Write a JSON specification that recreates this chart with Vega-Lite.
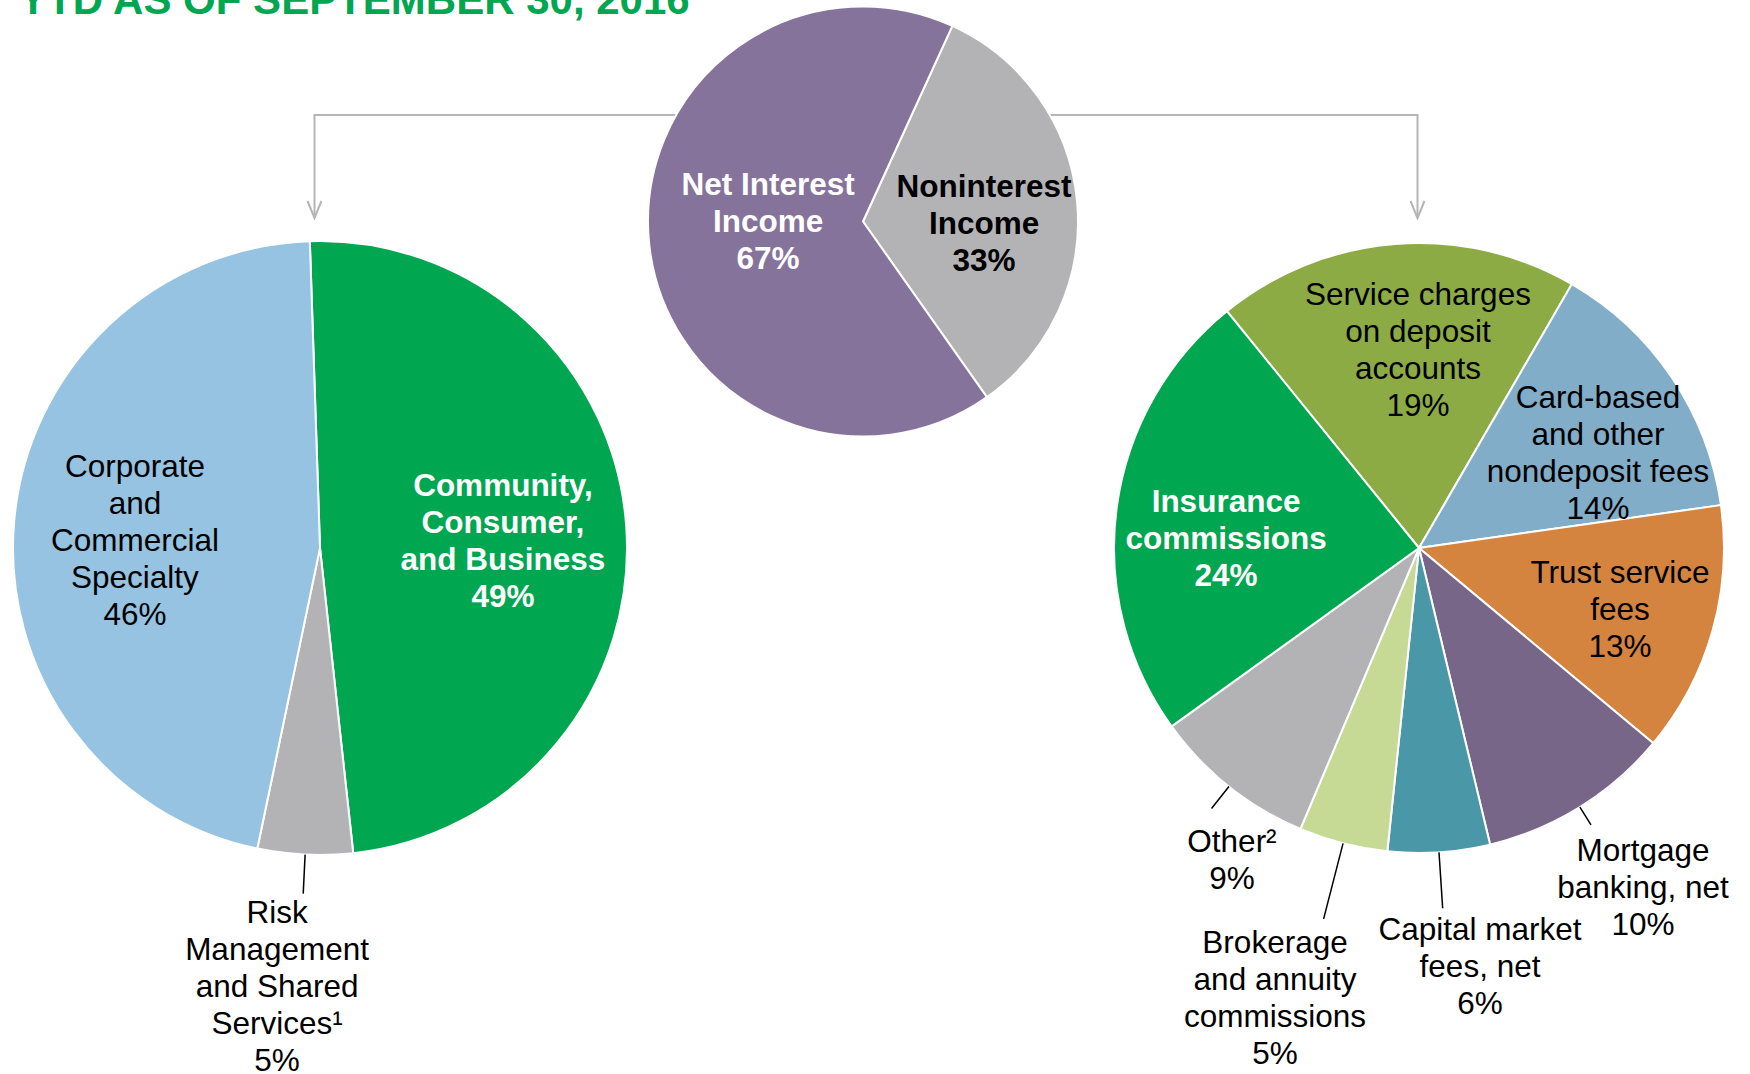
{
  "$schema": "https://vega.github.io/schema/vega-lite/v6.json",
  "width": 1750,
  "height": 1074,
  "padding": 0,
  "autosize": {"type": "none"},
  "background": "#ffffff",
  "config": {"view": {"stroke": null}, "font": "Liberation Sans", "text": {"font": "Liberation Sans"}},
  "title": {"text": "YTD AS OF SEPTEMBER 30, 2016", "anchor": "start", "orient": "top", "frame": "group", "baseline": "alphabetic", "offset": 0, "dx": 19, "dy": 56, "font": "Liberation Sans", "fontSize": 42, "fontWeight": "bold", "color": "#00a650"},
  "datasets": {
    "slices": [
      {"pie": "Total", "level": "total", "rank": 1, "segment": "Noninterest Income", "value": 33.4, "label": ["Noninterest", "Income", "33%"]},
      {"pie": "Total", "level": "total", "rank": 2, "segment": "Net Interest Income", "value": 66.6, "label": ["Net Interest", "Income", "67%"]},
      {"pie": "Segments", "level": "detail", "rank": 1, "segment": "Community, Consumer, and Business", "value": 48.8, "label": ["Community,", "Consumer,", "and Business", "49%"]},
      {"pie": "Segments", "level": "detail", "rank": 2, "segment": "Risk Management and Shared Services", "value": 5.0, "label": ["Risk", "Management", "and Shared", "Services¹", "5%"]},
      {"pie": "Segments", "level": "detail", "rank": 3, "segment": "Corporate and Commercial Specialty", "value": 46.2, "label": ["Corporate", "and", "Commercial", "Specialty", "46%"]},
      {"pie": "Noninterest", "level": "detail", "rank": 1, "segment": "Service charges on deposit accounts", "value": 19.2, "label": ["Service charges", "on deposit", "accounts", "19%"]},
      {"pie": "Noninterest", "level": "detail", "rank": 2, "segment": "Card-based and other nondeposit fees", "value": 14.4, "label": ["Card-based", "and other", "nondeposit fees", "14%"]},
      {"pie": "Noninterest", "level": "detail", "rank": 3, "segment": "Trust service fees", "value": 13.3, "label": ["Trust service", "fees", "13%"]},
      {"pie": "Noninterest", "level": "detail", "rank": 4, "segment": "Mortgage banking, net", "value": 10.2, "label": ["Mortgage", "banking, net", "10%"]},
      {"pie": "Noninterest", "level": "detail", "rank": 5, "segment": "Capital market fees, net", "value": 5.4, "label": ["Capital market", "fees, net", "6%"]},
      {"pie": "Noninterest", "level": "detail", "rank": 6, "segment": "Brokerage and annuity commissions", "value": 4.7, "label": ["Brokerage", "and annuity", "commissions", "5%"]},
      {"pie": "Noninterest", "level": "detail", "rank": 7, "segment": "Other", "value": 8.7, "label": ["Other²", "9%"]},
      {"pie": "Noninterest", "level": "detail", "rank": 8, "segment": "Insurance commissions", "value": 24.1, "label": ["Insurance", "commissions", "24%"]}
    ],
    "connector": [
      {"pie": "Segments", "level": "tip", "step": 1},
      {"pie": "Segments", "level": "bracket", "step": 2},
      {"pie": "Noninterest", "level": "bracket", "step": 3},
      {"pie": "Noninterest", "level": "tip", "step": 4}
    ]
  },
  "resolve": {"scale": {"x": "independent", "y": "independent", "theta": "independent", "color": "independent"}},
  "layer": [
    {
      "data": {"name": "connector"},
      "mark": {"type": "line", "color": "#b5b5b5", "strokeWidth": 2},
      "encoding": {
        "x": {"field": "pie", "type": "nominal", "scale": {"type": "point", "domain": ["Segments", "Noninterest"], "range": [314.5, 1417.5], "padding": 0}, "axis": null},
        "y": {"field": "level", "type": "nominal", "scale": {"type": "point", "domain": ["bracket", "tip"], "range": [115, 218], "padding": 0}, "axis": null},
        "order": {"field": "step", "type": "quantitative"}
      }
    },
    {
      "data": {"name": "connector"},
      "transform": [{"filter": "datum.level === 'tip'"}],
      "mark": {"type": "point", "shape": "M-0.41,-1L0,0L0.41,-1", "size": 1156, "filled": false, "stroke": "#b5b5b5", "strokeWidth": 2, "opacity": 1},
      "encoding": {
        "x": {"field": "pie", "type": "nominal", "scale": {"type": "point", "domain": ["Segments", "Noninterest"], "range": [314.5, 1417.5], "padding": 0}, "axis": null},
        "y": {"field": "level", "type": "nominal", "scale": {"type": "point", "domain": ["bracket", "tip"], "range": [115, 218], "padding": 0}, "axis": null}
      }
    },
    {
      "data": {"name": "slices"},
      "transform": [{"filter": "datum.pie === 'Total'"}],
      "encoding": {
        "x": {"field": "pie", "type": "nominal", "scale": {"type": "point", "domain": ["Segments", "Total", "Noninterest"], "range": [320, 1406], "padding": 0}, "axis": null},
        "y": {"field": "level", "type": "nominal", "scale": {"type": "point", "domain": ["total", "detail"], "range": [221.5, 548], "padding": 0}, "axis": null},
        "theta": {"field": "value", "type": "quantitative", "stack": true, "scale": {"range": [0.42865, 6.71184]}},
        "order": {"field": "rank", "type": "quantitative"}
      },
      "layer": [
        {
          "mark": {"type": "arc", "outerRadius": 215, "stroke": "#ffffff", "strokeWidth": 2},
          "encoding": {"color": {"field": "segment", "type": "nominal", "scale": {"domain": ["Noninterest Income", "Net Interest Income"], "range": ["#b3b3b5", "#86739b"]}, "legend": null}}
        },
        {
          "mark": {"type": "text", "radius": 98.6, "thetaOffset": 0.365, "align": "center", "baseline": "alphabetic", "fontSize": 31.5, "lineHeight": 37, "fontWeight": "bold", "fill": "#ffffff"},
          "encoding": {"text": {"condition": {"test": "datum.segment === 'Net Interest Income'", "field": "label"}, "value": ""}}
        },
        {
          "mark": {"type": "text", "radius": 123.5, "thetaOffset": -0.107, "align": "center", "baseline": "alphabetic", "fontSize": 31.5, "lineHeight": 37, "fontWeight": "bold", "fill": "#000000"},
          "encoding": {"text": {"condition": {"test": "datum.segment === 'Noninterest Income'", "field": "label"}, "value": ""}}
        }
      ]
    },
    {
      "data": {"name": "slices"},
      "transform": [{"filter": "datum.pie === 'Segments'"}],
      "encoding": {
        "x": {"field": "pie", "type": "nominal", "scale": {"type": "point", "domain": ["Segments", "Total", "Noninterest"], "range": [320, 1419], "padding": 0}, "axis": null},
        "y": {"field": "level", "type": "nominal", "scale": {"type": "point", "domain": ["total", "detail"], "range": [221.5, 548], "padding": 0}, "axis": null},
        "theta": {"field": "value", "type": "quantitative", "stack": true, "scale": {"range": [-0.03316, 6.25003]}},
        "order": {"field": "rank", "type": "quantitative"}
      },
      "layer": [
        {
          "mark": {"type": "arc", "outerRadius": 307, "stroke": "#ffffff", "strokeWidth": 2},
          "encoding": {"color": {"field": "segment", "type": "nominal", "scale": {"domain": ["Community, Consumer, and Business", "Risk Management and Shared Services", "Corporate and Commercial Specialty"], "range": ["#00a650", "#b3b3b5", "#96c3e1"]}, "legend": null}}
        },
        {
          "mark": {"type": "arc", "innerRadius": 307, "outerRadius": 346, "padAngle": 3, "filled": false, "stroke": "#000000", "strokeWidth": 1.5},
          "encoding": {"strokeOpacity": {"condition": {"test": "datum.segment === 'Risk Management and Shared Services'", "value": 1}, "value": 0}}
        },
        {
          "mark": {"type": "text", "radius": 190.2, "thetaOffset": -0.2059, "align": "center", "baseline": "alphabetic", "fontSize": 31.5, "lineHeight": 37, "fontWeight": "bold", "fill": "#ffffff"},
          "encoding": {"text": {"condition": {"test": "datum.segment === 'Community, Consumer, and Business'", "field": "label"}, "value": ""}}
        },
        {
          "mark": {"type": "text", "radius": 198.2, "thetaOffset": 0.2803, "align": "center", "baseline": "alphabetic", "fontSize": 31.5, "lineHeight": 37, "fill": "#000000"},
          "encoding": {"text": {"condition": {"test": "datum.segment === 'Corporate and Commercial Specialty'", "field": "label"}, "value": ""}}
        },
        {
          "mark": {"type": "text", "radius": 377.0, "thetaOffset": 0.0656, "align": "center", "baseline": "alphabetic", "fontSize": 31.5, "lineHeight": 37, "fill": "#000000"},
          "encoding": {"text": {"condition": {"test": "datum.segment === 'Risk Management and Shared Services'", "field": "label"}, "value": ""}}
        }
      ]
    },
    {
      "data": {"name": "slices"},
      "transform": [{"filter": "datum.pie === 'Noninterest'"}],
      "encoding": {
        "x": {"field": "pie", "type": "nominal", "scale": {"type": "point", "domain": ["Segments", "Total", "Noninterest"], "range": [320, 1419], "padding": 0}, "axis": null},
        "y": {"field": "level", "type": "nominal", "scale": {"type": "point", "domain": ["total", "detail"], "range": [221.5, 548], "padding": 0}, "axis": null},
        "theta": {"field": "value", "type": "quantitative", "stack": true, "scale": {"range": [-0.68138, 5.60181]}},
        "order": {"field": "rank", "type": "quantitative"}
      },
      "layer": [
        {
          "mark": {"type": "arc", "outerRadius": 305, "stroke": "#ffffff", "strokeWidth": 2},
          "encoding": {"color": {"field": "segment", "type": "nominal", "scale": {"domain": ["Service charges on deposit accounts", "Card-based and other nondeposit fees", "Trust service fees", "Mortgage banking, net", "Capital market fees, net", "Brokerage and annuity commissions", "Other", "Insurance commissions"], "range": ["#8dab45", "#82adc8", "#d4843f", "#786689", "#4a97a8", "#c6d995", "#b3b3b5", "#00a650"]}, "legend": null}}
        },
        {
          "mark": {"type": "arc", "innerRadius": 305, "outerRadius": 326, "padAngle": 3, "filled": false, "stroke": "#000000", "strokeWidth": 1.5},
          "encoding": {"strokeOpacity": {"condition": {"test": "datum.segment === 'Mortgage banking, net'", "value": 1}, "value": 0}}
        },
        {
          "mark": {"type": "arc", "innerRadius": 305, "outerRadius": 361, "padAngle": 3, "filled": false, "stroke": "#000000", "strokeWidth": 1.5},
          "encoding": {"strokeOpacity": {"condition": {"test": "datum.segment === 'Capital market fees, net'", "value": 1}, "value": 0}}
        },
        {
          "mark": {"type": "arc", "innerRadius": 305, "outerRadius": 383, "padAngle": 3, "filled": false, "stroke": "#000000", "strokeWidth": 1.5},
          "encoding": {"strokeOpacity": {"condition": {"test": "datum.segment === 'Brokerage and annuity commissions'", "value": 1}, "value": 0}}
        },
        {
          "mark": {"type": "arc", "innerRadius": 305, "outerRadius": 333, "padAngle": 3, "filled": false, "stroke": "#000000", "strokeWidth": 1.5},
          "encoding": {"strokeOpacity": {"condition": {"test": "datum.segment === 'Other'", "value": 1}, "value": 0}}
        },
        {
          "mark": {"type": "text", "radius": 243.0, "thetaOffset": 0.074, "align": "center", "baseline": "alphabetic", "fontSize": 31.5, "lineHeight": 37, "fill": "#000000"},
          "encoding": {"text": {"condition": {"test": "datum.segment === 'Service charges on deposit accounts'", "field": "label"}, "value": ""}}
        },
        {
          "mark": {"type": "text", "radius": 227.2, "thetaOffset": -0.0703, "align": "center", "baseline": "alphabetic", "fontSize": 31.5, "lineHeight": 37, "fill": "#000000"},
          "encoding": {"text": {"condition": {"test": "datum.segment === 'Card-based and other nondeposit fees'", "field": "label"}, "value": ""}}
        },
        {
          "mark": {"type": "text", "radius": 204.0, "thetaOffset": -0.1044, "align": "center", "baseline": "alphabetic", "fontSize": 31.5, "lineHeight": 37, "fill": "#000000"},
          "encoding": {"text": {"condition": {"test": "datum.segment === 'Trust service fees'", "field": "label"}, "value": ""}}
        },
        {
          "mark": {"type": "text", "radius": 384.9, "thetaOffset": -0.0654, "align": "center", "baseline": "alphabetic", "fontSize": 31.5, "lineHeight": 37, "fill": "#000000"},
          "encoding": {"text": {"condition": {"test": "datum.segment === 'Mortgage banking, net'", "field": "label"}, "value": ""}}
        },
        {
          "mark": {"type": "text", "radius": 396.7, "thetaOffset": -0.0888, "align": "center", "baseline": "alphabetic", "fontSize": 31.5, "lineHeight": 37, "fill": "#000000"},
          "encoding": {"text": {"condition": {"test": "datum.segment === 'Capital market fees, net'", "field": "label"}, "value": ""}}
        },
        {
          "mark": {"type": "text", "radius": 429.8, "thetaOffset": 0.0899, "align": "center", "baseline": "alphabetic", "fontSize": 31.5, "lineHeight": 37, "fill": "#000000"},
          "encoding": {"text": {"condition": {"test": "datum.segment === 'Brokerage and annuity commissions'", "field": "label"}, "value": ""}}
        },
        {
          "mark": {"type": "text", "radius": 356.9, "thetaOffset": -0.1211, "align": "center", "baseline": "alphabetic", "fontSize": 31.5, "lineHeight": 37, "fill": "#000000"},
          "encoding": {"text": {"condition": {"test": "datum.segment === 'Other'", "field": "label"}, "value": ""}}
        },
        {
          "mark": {"type": "text", "radius": 196.3, "thetaOffset": 0.0522, "align": "center", "baseline": "alphabetic", "fontSize": 31.5, "lineHeight": 37, "fontWeight": "bold", "fill": "#ffffff"},
          "encoding": {"text": {"condition": {"test": "datum.segment === 'Insurance commissions'", "field": "label"}, "value": ""}}
        }
      ]
    }
  ]
}
